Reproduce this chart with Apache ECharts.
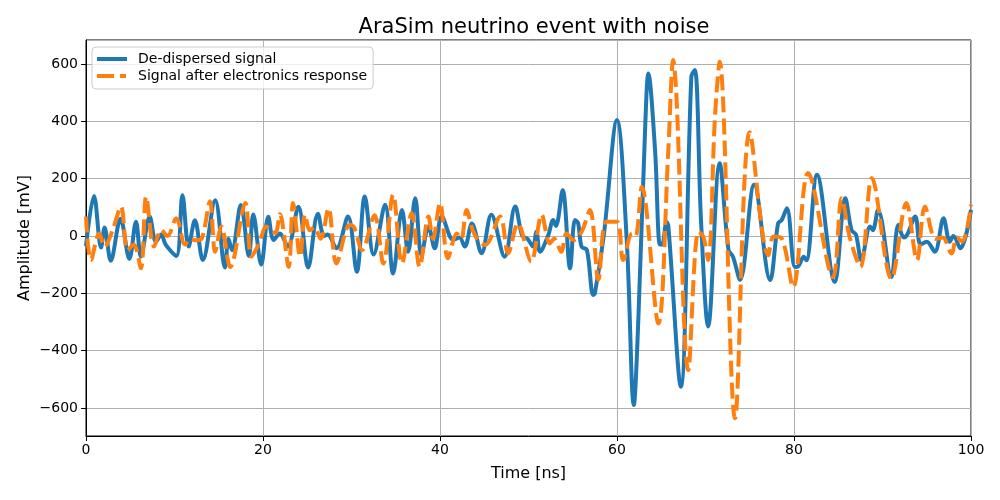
<!DOCTYPE html>
<html>
<head>
<meta charset="utf-8">
<script src="https://cdn.jsdelivr.net/npm/echarts@6/dist/echarts.min.js"></script>
<style>html,body{margin:0;padding:0;background:#fff}#c{width:1000px;height:500px}</style>
</head>
<body>
<div id="c"></div>
<script>
// De-dispersed signal: (time ns, amplitude mV) read at peaks/troughs
const dedispTime = [0,0.9,1.7,2.1,2.8,3.9,4.9,5.65,6.2,7.2,7.9,8.5,9.0,10.2,10.9,
  11.6,12.3,13.2,14.6,15.7,16.1,16.5,17.5,18.4,18.9,19.8,20.6,21.2,21.9,22.8,24.0,25.1,26.2,26.9,27.3,28.3,29.6,30.6,31.5,32.5,
  33.8,34.7,35.7,36.4,37.2,37.9,38.7,39.4,40.2,41.5,42.2,42.8,43.6,44.7,45.8,47.3,48.5,49.3,49.9,50.5,50.9,51.3,52.2,52.8,53.1,53.86,
  54.7,55.25,55.6,56.0,56.6,57.3,57.5,58.5,60.0,61.1,61.9,62.4,63.2,63.54,64.3,64.85,65.1,65.6,65.8,67.2,68.4,68.8,69.5,70.3,71.6,
  72.6,73.1,73.9,75.5,77.3,78.2,78.6,79.2,80.1,80.5,81.1,81.4,82.6,84.6,85.8,86.5,87.0,87.6,88.6,88.9,89.5,91.0,91.8,92.4,92.8,93.7,
  94.3,95.0,95.9,96.9,97.6,98.0,98.8,100];
const dedispAmp = [-35,140,-40,30,-86,60,-80,50,-72,68,-20,5,-30,-70,142,
  -37,55,-84,125,-110,-10,-50,108,-70,75,-100,67,-14,9,-37,102,-110,78,0,5,-43,68,-125,138,-65,
  109,-131,91,-55,132,-67,33,-43,68,-14,-5,-37,44,-60,74,-72,103,0,-10,-37,15,-55,0,56,35,160,
  -113,56,45,-37,-49,-206,-200,0,405,-14,-590,-300,393,567,300,-30,-30,50,35,-526,556,579,50,-316,254,
  -49,-72,-153,179,-154,44,55,97,-108,-105,-72,-85,214,-160,132,21,5,-84,33,20,91,-143,39,-5,5,68,
  -30,-20,-55,62,-20,0,-43,91];

// Signal after electronics response
const responseTime = [0,0.56,1.5,2.1,3.0,3.95,4.7,5.4,6.2,6.8,7.7,8.5,9.2,10.2,11.2,11.8,12.4,13.1,14.0,14.6,15.3,16.3,18.0,18.7,19.5,
  20.4,20.9,21.4,21.9,22.9,23.4,24.2,24.75,25.3,25.8,26.5,27.4,28.3,29.8,30.3,31.2,32.6,33.6,34.7,35.7,36.8,37.7,38.7,39.2,40.0,40.9,
  41.9,42.4,43.0,43.7,44.3,45.1,46.8,47.7,48.8,50.3,51.5,52.4,52.9,53.7,54.3,55.1,56.0,56.95,57.9,58.8,60.0,60.7,61.7,62.1,62.8,
  64.67,65.8,66.36,66.7,68.06,69.2,69.75,70.3,71.07,71.6,73.33,75.0,77.1,77.7,78.6,79.9,81.6,84.4,85.4,86.3,87.5,88.8,91.0,92.7,
  93.9,94.8,96.0,96.8,97.8,98.4,99.0,100];
const responseAmp = [68,-84,9,-37,20,103,-49,-30,-113,138,-37,21,0,62,-30,-10,-15,-8,120,-55,33,-108,115,-72,-30,
  33,20,10,76,-108,115,-72,74,20,30,-10,97,-96,39,30,-49,72,-96,144,-96,80,-108,68,-10,115,-78,
  9,-10,91,20,-14,-31,68,-61,44,-90,74,-26,-10,-55,9,-14,15,91,-153,50,50,-84,9,0,172,
  -305,300,614,500,-468,15,-2,-84,416,608,-636,362,-67,-2,-8,-178,220,-143,132,-5,-108,202,-149,115,
  -84,103,-10,-5,-61,-5,-20,109];

const xTicks = [0,20,40,60,80,100];

const chart = echarts.init(document.getElementById('c'), null, {renderer:'canvas'});
const font = 'DejaVu Sans';
const pair = (t, v) => t.map((x, i) => [x, v[i]]);
const minus = v => String(v).replace('-', '\u2212');

chart.setOption({
  animation: false,
  backgroundColor: '#fff',
  textStyle: {fontFamily: font},
  title: {
    text: 'AraSim neutrino event with noise',
    left: 529, top: 12, textAlign: 'center',
    textStyle: {fontFamily: font, fontSize: 21, fontWeight: 'normal', color: '#000'}
  },
  legend: {
    orient: 'vertical', left: 92, top: 47,
    backgroundColor: 'rgba(255,255,255,0.8)', borderColor: '#cccccc', borderWidth: 1, borderRadius: 4,
    padding: [5, 6, 6, 5], itemGap: 3, itemWidth: 36, itemHeight: 4,
    textStyle: {fontFamily: font, fontSize: 14, color: '#000'},
    data: [
      {name: 'De-dispersed signal', icon: 'path://M0,0H30V4H0Z M35.98,0H36V4H35.98Z'},
      {name: 'Signal after electronics response', icon: 'path://M0,0H17V4H0Z M23,0H29V4H23Z M35.98,0H36V4H35.98Z'}
    ]
  },
  grid: {left: 86, right: 29, top: 40, bottom: 64, show: true, borderColor: '#000', borderWidth: 1, backgroundColor: 'transparent'},
  xAxis: {
    type: 'value', min: 0, max: 100, interval: 20,
    name: 'Time [ns]', nameLocation: 'middle', nameGap: 30,
    nameTextStyle: {fontFamily: font, fontSize: 16, color: '#000'},
    axisLine: {show: true, onZero: false, lineStyle: {color: '#000'}},
    axisTick: {show: true, length: 5, lineStyle: {color: '#000'}},
    axisLabel: {fontFamily: font, fontSize: 14, color: '#000', margin: 7, customValues: xTicks},
    splitLine: {show: true, lineStyle: {color: '#b0b0b0', width: 1}}
  },
  yAxis: {
    type: 'value', min: -698, max: 684, splitNumber: 7,
    name: 'Amplitude [mV]', nameLocation: 'middle', nameGap: 53, nameMoveOverlap: false,
    nameTextStyle: {fontFamily: font, fontSize: 16, color: '#000'},
    axisLine: {show: true, onZero: false, lineStyle: {color: '#000'}},
    axisTick: {show: true, length: 5, lineStyle: {color: '#000'}},
    axisLabel: {fontFamily: font, fontSize: 14, color: '#000', margin: 8, showMinLabel: false, showMaxLabel: false, formatter: minus},
    splitLine: {show: true, lineStyle: {color: '#b0b0b0', width: 1}}
  },
  series: [
    {
      name: 'De-dispersed signal', type: 'line', data: pair(dedispTime, dedispAmp),
      showSymbol: false, symbol: 'none', smooth: 0.35,
      lineStyle: {color: '#1f77b4', width: 4}, itemStyle: {color: '#1f77b4'}, z: 3
    },
    {
      name: 'Signal after electronics response', type: 'line', data: pair(responseTime, responseAmp),
      showSymbol: false, symbol: 'none', smooth: 0.35,
      lineStyle: {color: '#ff7f0e', width: 4, type: [16, 6]}, itemStyle: {color: '#ff7f0e'}, z: 4
    }
  ]
});
</script>
</body>
</html>
